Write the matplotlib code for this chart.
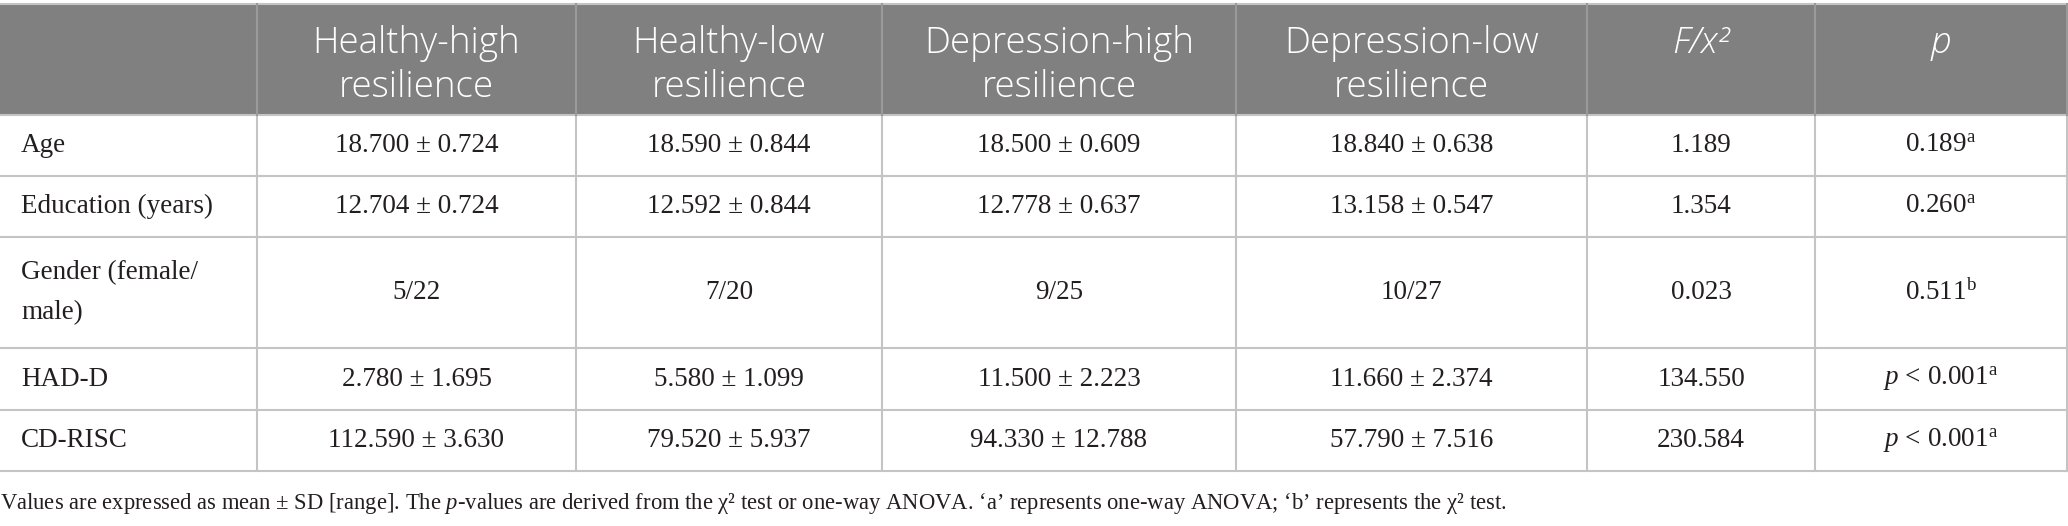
import matplotlib
matplotlib.use("Agg")
import matplotlib.pyplot as plt
from matplotlib.patches import Rectangle

plt.rcParams['mathtext.fontset'] = 'custom'
plt.rcParams['mathtext.rm'] = 'Liberation Serif'
plt.rcParams['mathtext.it'] = 'Liberation Serif:italic'

# table content
col_headers = [("", ""), ("Healthy-high", "resilience"), ("Healthy-low", "resilience"),
               ("Depression-high", "resilience"), ("Depression-low", "resilience"),
               ("F/x²", ""), ("p", "")]
row_labels = ["Age", "Education (years)", "Gender (female/\nmale)", "HAD-D", "CD-RISC"]
healthy_high = ["18.700 ± 0.724", "12.704 ± 0.724", "5/22", "2.780 ± 1.695", "112.590 ± 3.630"]
healthy_low = ["18.590 ± 0.844", "12.592 ± 0.844", "7/20", "5.580 ± 1.099", "79.520 ± 5.937"]
depression_high = ["18.500 ± 0.609", "12.778 ± 0.637", "9/25", "11.500 ± 2.223", "94.330 ± 12.788"]
depression_low = ["18.840 ± 0.638", "13.158 ± 0.547", "10/27", "11.660 ± 2.374", "57.790 ± 7.516"]
f_values = ["1.189", "1.354", "0.023", "134.550", "230.584"]
p_values = [r"$0.189^{\mathrm{a}}$", r"$0.260^{\mathrm{a}}$", r"$0.511^{\mathrm{b}}$",
            r"$p$ < 0.001$^{\mathrm{a}}$", r"$p$ < 0.001$^{\mathrm{a}}$"]
footnote = (r"Values are expressed as mean ± SD [range]. The $p$-values are derived from the χ² test "
            "or one-way ANOVA. ‘a’ represents one-way ANOVA; ‘b’ represents the χ² test.")

# layout (pixels)
W, H = 2068, 526
col_edges = [0, 257, 576, 882, 1236, 1587, 1815, 2067]
row_edges = [4, 115, 176, 237, 348, 410, 471]
header_bg = "#7f807f"
line_col = "#c4c4c4"
text_col = "#231f20"

fig = plt.figure(figsize=(W / 100, H / 100), dpi=100)
ax = fig.add_axes([0, 0, 1, 1])
ax.set_xlim(0, W)
ax.set_ylim(H, 0)
ax.axis("off")

# header
ax.add_patch(Rectangle((0, row_edges[0]), col_edges[-1], row_edges[1] - row_edges[0],
                       facecolor=header_bg, edgecolor="none"))
for i, (l1, l2) in enumerate(col_headers):
    cx = (col_edges[i] + col_edges[i + 1]) / 2
    style = "italic" if i >= 5 else "normal"
    ax.text(cx, 53, l1, ha="center", va="baseline", color="white", fontsize=26.5,
            family="Open Sans", style=style, weight="light")
    if l2:
        ax.text(cx, 97, l2, ha="center", va="baseline", color="white", fontsize=26.5,
                family="Open Sans", weight="light")

# body
columns = [healthy_high, healthy_low, depression_high, depression_low, f_values, p_values]
for r, lab in enumerate(row_labels):
    cy = (row_edges[r + 1] + row_edges[r + 2]) / 2
    ax.text(21, cy, lab, ha="left", va="center", color=text_col, fontsize=19.5,
            family="Liberation Serif", linespacing=1.8)
    for c, vals in enumerate(columns):
        cx = (col_edges[c + 1] + col_edges[c + 2]) / 2
        ax.text(cx, cy, vals[r], ha="center", va="center", color=text_col, fontsize=19.5,
                family="Liberation Serif")

# grid lines
ax.plot([0, col_edges[-1]], [row_edges[0]] * 2, color=line_col, lw=1.5)
for y in row_edges[1:]:
    ax.plot([0, col_edges[-1]], [y, y], color=line_col, lw=1.5)
for x in col_edges[1:]:
    ax.plot([x, x], [row_edges[1], row_edges[-1]], color=line_col, lw=1.5)
    ax.plot([x, x], [row_edges[0], row_edges[1]], color="#9a9a9a", lw=1.5)

ax.text(0, 503, footnote, ha="left", va="center", color=text_col, fontsize=16.3,
        family="Liberation Serif")

fig.savefig("out.png", dpi=100)
